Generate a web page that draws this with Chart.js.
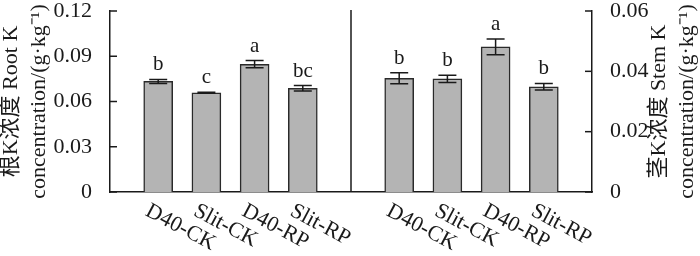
<!DOCTYPE html>
<html>
<head>
<meta charset="utf-8">
<script src="https://cdn.jsdelivr.net/npm/chart.js@4/dist/chart.umd.min.js"></script>
<style>
  body { margin: 0; background: #fff; }
  #wrap { width: 700px; height: 256px; }
</style>
</head>
<body>
<div id="wrap"><canvas id="myChart" width="700" height="256"></canvas></div>
<script>
// treatments (same for both panels)
const treatments = ['D40-CK', 'Slit-CK', 'D40-RP', 'Slit-RP'];

// root K concentration (left axis)
const rootK = [0.0733, 0.0658, 0.0847, 0.0688];
const rootErr = [0.0013, 0.0004, 0.0024, 0.0018];
const rootLetters = ['b', 'c', 'a', 'bc'];

// stem K concentration (right axis)
const stemK = [0.0377, 0.0375, 0.0481, 0.0349];
const stemErr = [0.0018, 0.0012, 0.0026, 0.0011];
const stemLetters = ['b', 'b', 'a', 'b'];

const leftTicks = [0, 0.03, 0.06, 0.09, 0.12];
const rightTicks = [0, 0.02, 0.04, 0.06];

const leftTitle = ['根K浓度 Root K', 'concentration/(g·kg⁻¹)'];
const rightTitle = ['茎K浓度 Stem K', 'concentration/(g·kg⁻¹)'];

const FONT = "'Liberation Serif', 'Noto Sans CJK SC', serif";
const INK = '#1a1a1a';

// one category axis: blank slot, 4 root bars, blank slot (divider), 4 stem bars, blank slot
const labels = [''].concat(treatments, [''], treatments, ['']);
const rootData = [null].concat(rootK, new Array(6).fill(null));
const rootErrData = [null].concat(rootErr, new Array(6).fill(null));
const stemData = new Array(6).fill(null).concat(stemK, [null]);
const stemErrData = new Array(6).fill(null).concat(stemErr, [null]);
const letterData = [null].concat(rootLetters, new Array(6).fill(null));
const letterData2 = new Array(6).fill(null).concat(stemLetters, [null]);

const canvas = document.getElementById('myChart');
const ctx = canvas.getContext('2d');

const extrasPlugin = {
  id: 'extras',
  afterDatasetsDraw(chart) {
    const c = chart.ctx;
    const area = chart.chartArea;
    const xs = chart.scales.x;

    // inward tick marks
    c.save();
    c.strokeStyle = INK;
    c.lineWidth = 1.5;
    const yl = chart.scales.y, yr = chart.scales.y2;
    leftTicks.forEach(v => {
      const py = yl.getPixelForValue(v);
      c.beginPath(); c.moveTo(area.left, py); c.lineTo(area.left + 7, py); c.stroke();
    });
    rightTicks.forEach(v => {
      const py = yr.getPixelForValue(v);
      c.beginPath(); c.moveTo(area.right, py); c.lineTo(area.right - 7, py); c.stroke();
    });

    // divider between the two panels
    const dx = xs.getPixelForValue(5);
    c.beginPath(); c.moveTo(dx, area.top - 1); c.lineTo(dx, area.bottom); c.stroke();

    // error bars + letters
    const sets = [
      { meta: chart.getDatasetMeta(0), vals: rootData, errs: rootErrData, lets: letterData, scale: yl },
      { meta: chart.getDatasetMeta(1), vals: stemData, errs: stemErrData, lets: letterData2, scale: yr }
    ];
    c.font = '21px ' + FONT;
    c.fillStyle = INK;
    c.textAlign = 'center';
    c.textBaseline = 'alphabetic';
    sets.forEach(s => {
      s.vals.forEach((v, i) => {
        if (v === null) return;
        const px = s.meta.data[i].x;
        const top = s.scale.getPixelForValue(v + s.errs[i]);
        const bot = s.scale.getPixelForValue(v - s.errs[i]);
        c.beginPath();
        c.moveTo(px, top); c.lineTo(px, bot);
        c.moveTo(px - 9, top); c.lineTo(px + 9, top);
        c.moveTo(px - 9, bot); c.lineTo(px + 9, bot);
        c.stroke();
        c.fillText(s.lets[i], px, top - 9);
      });
    });

    // slanted category labels
    c.font = '22px ' + FONT;
    c.textAlign = 'left';
    c.textBaseline = 'top';
    labels.forEach((lab, i) => {
      if (!lab) return;
      const px = xs.getPixelForValue(i);
      c.save();
      c.translate(px - 6, area.bottom + 8);
      c.rotate(28 * Math.PI / 180);
      c.fillText(lab, 0, 0);
      c.restore();
    });

    // axis titles, rotated, reading bottom to top
    const midY = (area.top + area.bottom) / 2;
    const drawTitle = (lines, x0) => {
      lines.forEach((t, k) => {
        c.save();
        c.translate(x0 + k * 28, midY);
        c.rotate(-Math.PI / 2);
        c.textAlign = 'center';
        c.textBaseline = 'middle';
        c.fillText(t, 0, 0);
        c.restore();
      });
    };
    drawTitle(leftTitle, area.left - 99);
    drawTitle(rightTitle, area.right + 67);
    c.restore();
  }
};

new Chart(ctx, {
  type: 'bar',
  data: {
    labels: labels,
    datasets: [{
      label: 'Root K',
      data: rootData,
      yAxisID: 'y',
      grouped: false,
      backgroundColor: '#b4b4b4',
      borderColor: '#2a2a2a',
      borderWidth: 1.5,
      barThickness: 29
    }, {
      label: 'Stem K',
      data: stemData,
      yAxisID: 'y2',
      grouped: false,
      backgroundColor: '#b4b4b4',
      borderColor: '#2a2a2a',
      borderWidth: 1.5,
      barThickness: 29
    }]
  },
  options: {
    responsive: false,
    animation: false,
    layout: { padding: { top: 11, left: 0, right: 0, bottom: 0 } },
    plugins: {
      legend: { display: false },
      tooltip: { enabled: false }
    },
    scales: {
      x: {
        offset: false,
        grid: { display: false, offset: false },
        border: { display: true, color: INK, width: 1.5 },
        ticks: { display: false },
        afterFit: s => { s.height = 64; }
      },
      y: {
        position: 'left',
        min: 0, max: 0.12,
        grid: { display: false },
        border: { display: true, color: INK, width: 1.5 },
        afterBuildTicks: s => { s.ticks = leftTicks.map(v => ({ value: v })); },
        ticks: {
          padding: 10,
          color: INK,
          font: { family: FONT, size: 22 },
          callback: v => String(v)
        },
        afterFit: s => { s.width = 110; s.paddingTop = 0; s.paddingBottom = 0; }
      },
      y2: {
        position: 'right',
        min: 0, max: 0.06,
        grid: { display: false },
        border: { display: true, color: INK, width: 1.5 },
        afterBuildTicks: s => { s.ticks = rightTicks.map(v => ({ value: v })); },
        ticks: {
          padding: 10,
          color: INK,
          font: { family: FONT, size: 22 },
          callback: v => String(v)
        },
        afterFit: s => { s.width = 108; s.paddingTop = 0; s.paddingBottom = 0; }
      }
    }
  },
  plugins: [extrasPlugin]
});
</script>
</body>
</html>
